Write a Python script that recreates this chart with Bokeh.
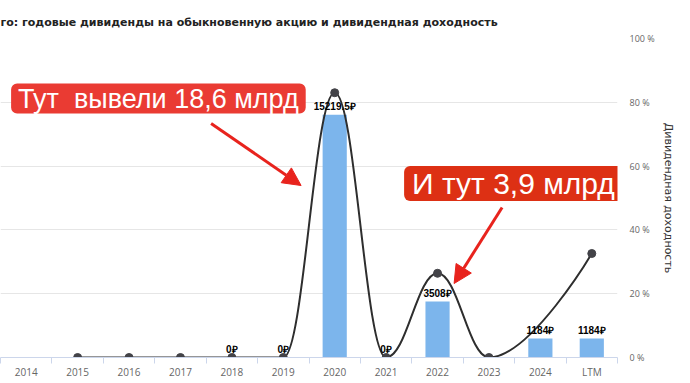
from bokeh.plotting import figure
from bokeh.models import Range1d, FixedTicker, Label, Arrow, NormalHead, ColumnDataSource
from bokeh.core.properties import value
from bokeh.embed import file_html
from bokeh.resources import INLINE

# ---- data ----
categories = ["2014", "2015", "2016", "2017", "2018", "2019", "2020",
              "2021", "2022", "2023", "2024", "LTM"]
dividends = [None, None, None, None, 0, 0, 15219.5, 0, 3508, None, 1184, 1184]
yields = [None, 0, 0, 0, 0, 0, 83.0, 0, 26.4, 0, None, 32.6]
yield_ticks = [0, 20, 40, 60, 80, 100]
div_max = 20000
title_text = "го: годовые дивиденды на обыкновенную акцию и дивидендная доходность"
note1 = "Тут\u00a0 вывели 18,6 млрд"
note2 = "И тут 3,9 млрд"

BAR = "#7cb5ec"
LINE = "#2e2e2e"
RED1 = "#ea3b33"
RED2 = "#dd3014"

FW, FH = 617, 319
FX0, FY0 = 1.4, 38  # frame top-left in picture pixels (approx.)


def dx(px):
    return -0.5 + (px - FX0) / FW * len(categories)


def dy(py):
    return (FY0 + FH - py) / FH * 100


p = figure(frame_width=FW, frame_height=FH,
           x_range=Range1d(-0.5, len(categories) - 0.5),
           y_range=Range1d(0, 100),
           y_axis_location="right",
           output_backend="svg", toolbar_location=None,
           min_border_left=0, min_border_top=38, min_border_bottom=0,
           min_border_right=0, outline_line_color=None)
p.extra_y_ranges = {"div": Range1d(0, div_max)}

p.title.text = title_text
p.title.align = "left"
p.title.offset = 0
p.title.text_font = "DejaVu Sans"
p.title.text_font_size = "11px"
p.title.text_font_style = "bold"
p.title.text_color = "#222222"
p.title.standoff = 20

# x axis
xa = p.xaxis[0]
xa.ticker = FixedTicker(ticks=list(range(len(categories))),
                        minor_ticks=[i - 0.5 for i in range(len(categories) + 1)])
xa.major_label_overrides = {i: c for i, c in enumerate(categories)}
xa.major_tick_line_color = None
xa.major_tick_out = 0
xa.major_tick_in = 0
xa.minor_tick_out = 6
xa.minor_tick_in = 0
xa.minor_tick_line_color = "#ccd6eb"
xa.axis_line_color = "#ccd6eb"
xa.major_label_text_color = "#666666"
xa.major_label_text_font = "Open Sans"
xa.major_label_text_font_size = "10px"
xa.major_label_standoff = 1
p.xgrid.visible = False

# right y axis (yield)
ya = p.yaxis[0]
ya.ticker = FixedTicker(ticks=yield_ticks)
ya.major_label_overrides = {t: f"{t} %" for t in yield_ticks}
ya.axis_line_color = None
ya.major_tick_line_color = None
ya.minor_tick_line_color = None
ya.major_tick_out = 0
ya.major_tick_in = 0
ya.major_label_standoff = 12
ya.major_label_text_color = "#666666"
ya.major_label_text_font = "Open Sans"
ya.major_label_text_font_size = "9px"
ya.axis_label = "Дивидендная доходность"
ya.axis_label_text_font = "DejaVu Sans"
ya.axis_label_text_font_size = "11px"
ya.axis_label_text_font_style = "normal"
ya.axis_label_text_color = "#333333"
ya.axis_label_standoff = 4
p.ygrid.ticker = FixedTicker(ticks=yield_ticks)
p.ygrid.grid_line_color = "#e6e6e6"

# bars
bx = [i for i, v in enumerate(dividends) if v is not None]
bv = [v for v in dividends if v is not None]
bsrc = ColumnDataSource(dict(x=bx, top=bv,
                             label=[f"{v:g}\u20bd" for v in bv]))
p.vbar(x="x", top="top", width=0.47, source=bsrc, y_range_name="div",
       fill_color=BAR, line_color=None)

# spline (Highcharts-style smoothing)
pts = [(i, v) for i, v in enumerate(yields) if v is not None]
n = len(pts)
lc = [None] * n
rc = [None] * n
sm, den = 1.5, 2.5
for i in range(1, n - 1):
    (px_, py_), (x, y), (nx, ny) = pts[i - 1], pts[i], pts[i + 1]
    lcx, lcy = (sm * x + px_) / den, (sm * y + py_) / den
    rcx, rcy = (sm * x + nx) / den, (sm * y + ny) / den
    corr = ((rcy - lcy) * (rcx - x)) / (rcx - lcx) + y - rcy
    lcy += corr
    rcy += corr
    if lcy > py_ and lcy > y:
        lcy = max(py_, y); rcy = 2 * y - lcy
    elif lcy < py_ and lcy < y:
        lcy = min(py_, y); rcy = 2 * y - lcy
    if rcy > ny and rcy > y:
        rcy = max(ny, y); lcy = 2 * y - rcy
    elif rcy < ny and rcy < y:
        rcy = min(ny, y); lcy = 2 * y - rcy
    lc[i] = (lcx, lcy)
    rc[i] = (rcx, rcy)

seg = dict(x0=[], y0=[], x1=[], y1=[], cx0=[], cy0=[], cx1=[], cy1=[])
for i in range(1, n):
    a, b = pts[i - 1], pts[i]
    c0 = rc[i - 1] or a
    c1 = lc[i] or b
    seg["x0"].append(a[0]); seg["y0"].append(a[1])
    seg["x1"].append(b[0]); seg["y1"].append(b[1])
    seg["cx0"].append(c0[0]); seg["cy0"].append(c0[1])
    seg["cx1"].append(c1[0]); seg["cy1"].append(c1[1])
p.bezier(x0="x0", y0="y0", x1="x1", y1="y1", cx0="cx0", cy0="cy0",
         cx1="cx1", cy1="cy1", source=ColumnDataSource(seg),
         line_color=LINE, line_width=2)
p.scatter(x=[q[0] for q in pts], y=[q[1] for q in pts], size=8,
          fill_color="#434348", line_color="#434348")

# data labels above bars (drawn over the line)
p.text(x="x", y="top", text="label", source=bsrc, y_range_name="div",
       text_align="center", text_baseline="bottom", y_offset=-3,
       text_font=value("Liberation Sans"), text_font_size="10px",
       text_font_style="bold", text_color="#000000")

# annotations
lab1 = Label(x=dx(12), y=dy(98), text=note1, text_align="left",
             text_baseline="middle", text_color="white",
             text_font="Liberation Sans", text_font_size="27px",
             background_fill_color=RED1, border_radius=6, padding=(7, 0))
lab2 = Label(x=dx(405), y=dy(183), text=note2, text_align="left",
             text_baseline="middle", text_color="white",
             text_font="Liberation Sans", text_font_size="30px",
             background_fill_color=RED2, border_radius=6, padding=(8, 1))
p.add_layout(lab1)
p.add_layout(lab2)

for (x0, y0, x1, y1) in [(212, 123, 302, 185), (503, 207, 455, 283)]:
    p.add_layout(Arrow(x_start=dx(x0), y_start=dy(y0), x_end=dx(x1), y_end=dy(y1),
                       line_color="#e8231d", line_width=3,
                       end=NormalHead(size=18, fill_color="#e8231d",
                                      line_color="#e8231d")))

open("out.html", "w").write(file_html(p, INLINE))
